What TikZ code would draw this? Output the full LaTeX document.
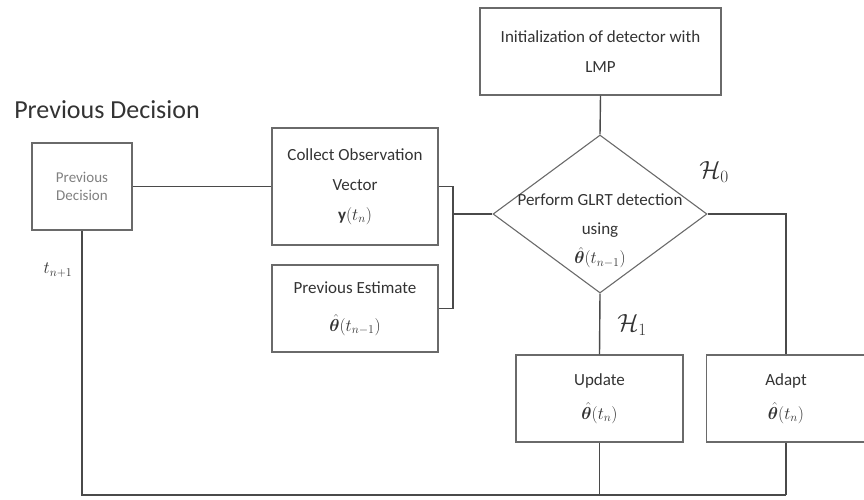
\documentclass[tikz,border=0pt]{standalone}
\usepackage{amsmath,bm}
\usepackage{fontspec}
\setmainfont{Carlito}
\usetikzlibrary{shapes.geometric}
\definecolor{linec}{HTML}{4A4A4A}
\definecolor{boxc}{HTML}{6A6A6A}
\definecolor{txtc}{HTML}{333333}
\newcommand{\thh}{\hat{\bm{\theta}}}
\begin{document}
\begin{tikzpicture}[x=1pt,y=-1pt,
  box/.style={draw=boxc,line width=1.1pt,rectangle,inner sep=0pt,align=center,text=txtc,font=\fontsize{17}{20}\selectfont},
  conn/.style={draw=linec,line width=1.4pt},
  lbl/.style={inner sep=0pt,text=txtc}]
\useasboundingbox (0,0) rectangle (864,500);
\node[lbl,font=\fontsize{26}{28}\selectfont] (title) at (107,110) {Previous Decision};
\node[box,minimum width=100,minimum height=87,text=gray,font=\fontsize{15}{18}\selectfont] (pd) at (82,186.5) {Previous\\Decision};
\node[box,minimum width=166,minimum height=117,font=\fontsize{17}{30}\selectfont] (col) at (355,186.5) {Collect Observation\\Vector\\$\mathbf{y}(t_n)$};
\node[box,minimum width=166,minimum height=87,font=\fontsize{17}{38}\selectfont] (pe) at (355,308.5) {Previous Estimate\\$\thh(t_{n-1})$};
\node[box,minimum width=241,minimum height=87,font=\fontsize{17}{30}\selectfont] (init) at (600.5,51.5) {Initialization of detector with\\LMP};
\node[draw=boxc,line width=1.1pt,diamond,minimum width=214,minimum height=158,inner sep=0pt] (glrt) at (600,214) {};
\node[lbl,align=center,font=\fontsize{17}{29}\selectfont] (glrtt) at (600,231) {Perform GLRT detection\\using\\$\thh(t_{n-1})$};
\node[box,minimum width=167,minimum height=87,font=\fontsize{17}{34}\selectfont] (upd) at (599.5,398.5) {Update\\$\thh(t_n)$};
\node[box,minimum width=159,minimum height=87,font=\fontsize{17}{34}\selectfont] (adp) at (786,398.5) {Adapt\\$\thh(t_n)$};
\node[lbl,font=\fontsize{26}{26}\selectfont] (h0) at (714,172) {$\mathcal{H}_0$};
\node[lbl,font=\fontsize{26}{26}\selectfont] (h1) at (632,325) {$\mathcal{H}_1$};
\node[lbl,font=\fontsize{17}{17}\selectfont] (tn) at (58,270) {$t_{n+1}$};
\coordinate (j) at (453,214);
\coordinate (bot) at (786,495);
\draw[conn] (pd.east) -- (col.west);
\draw[conn] (col.east) -| (j) |- (pe.east);
\draw[conn] (j) -- (glrt.west);
\draw[conn] (init.south) -- (glrt.north);
\draw[conn] (glrt.east) -| (adp.north);
\draw[conn] (glrt.south) -- (upd.north);
\draw[conn] (pd.south) |- (bot);
\draw[conn] (adp.south) -- (bot);
\draw[conn] (upd.south) -- (upd.south |- bot);
\end{tikzpicture}
\end{document}
